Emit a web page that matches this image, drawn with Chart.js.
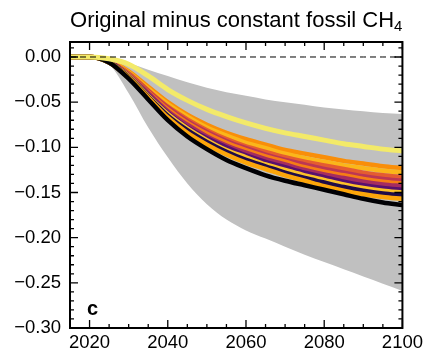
<!DOCTYPE html>
<html>
<head>
<meta charset="utf-8">
<script src="https://cdn.jsdelivr.net/npm/chart.js@4.4.0/dist/chart.umd.min.js"></script>
<style>
  html, body { margin: 0; padding: 0; background: #fff; }
  #wrap { width: 427px; height: 355px; }
</style>
</head>
<body>
<div id="wrap"><canvas id="c" width="427" height="355"></canvas></div>
<script>
const years = [2015, 2020, 2025, 2030, 2035, 2040, 2045, 2050, 2055, 2060, 2065, 2070, 2075, 2080, 2085, 2090, 2095, 2100];
const xTicks = [2020, 2040, 2060, 2080, 2100];
const yTicks = [-0.30, -0.25, -0.20, -0.15, -0.10, -0.05, 0.00];

// grey range of the other models
const rangeHigh = [0, 0, -0.002, -0.007, -0.014, -0.021, -0.028, -0.034, -0.039, -0.043, -0.047, -0.050, -0.053, -0.056, -0.058, -0.060, -0.062, -0.063];
const rangeLow  = [0, 0, -0.008, -0.040, -0.078, -0.111, -0.140, -0.163, -0.180, -0.192, -0.201, -0.210, -0.219, -0.227, -0.235, -0.243, -0.251, -0.259];

// ensemble members, top to bottom at 2100
const memberColors = ['#f3ea69', '#f98e09', '#fbb61a', '#e55c30', '#bc3754', '#f57d15', '#a52c60', '#57106e', '#fcc229', '#1f0c48', '#fca50a', '#000004'];
const members = [
  [0, 0, -0.002, -0.008, -0.021, -0.036, -0.048, -0.058, -0.066, -0.073, -0.079, -0.084, -0.088, -0.092, -0.096, -0.099, -0.102, -0.104],
  [0, 0, -0.004, -0.016, -0.033, -0.050, -0.064, -0.075, -0.084, -0.091, -0.097, -0.103, -0.107, -0.111, -0.115, -0.118, -0.121, -0.123],
  [0, 0, -0.004, -0.017, -0.035, -0.052, -0.066, -0.078, -0.087, -0.095, -0.101, -0.107, -0.112, -0.116, -0.120, -0.123, -0.126, -0.128],
  [0, 0, -0.005, -0.018, -0.037, -0.055, -0.069, -0.081, -0.091, -0.099, -0.105, -0.111, -0.116, -0.120, -0.124, -0.128, -0.131, -0.133],
  [0, 0, -0.005, -0.019, -0.038, -0.056, -0.071, -0.083, -0.093, -0.101, -0.108, -0.114, -0.119, -0.124, -0.128, -0.132, -0.135, -0.137],
  [0, 0, -0.005, -0.019, -0.039, -0.058, -0.073, -0.085, -0.095, -0.103, -0.110, -0.116, -0.122, -0.127, -0.131, -0.135, -0.138, -0.140],
  [0, 0, -0.005, -0.020, -0.040, -0.060, -0.075, -0.088, -0.098, -0.106, -0.113, -0.119, -0.125, -0.130, -0.134, -0.138, -0.141, -0.143],
  [0, 0, -0.005, -0.021, -0.042, -0.062, -0.078, -0.090, -0.100, -0.109, -0.116, -0.122, -0.128, -0.133, -0.138, -0.142, -0.145, -0.147],
  [0, 0, -0.006, -0.021, -0.043, -0.063, -0.079, -0.092, -0.103, -0.111, -0.119, -0.125, -0.131, -0.136, -0.141, -0.145, -0.148, -0.150],
  [0, 0, -0.006, -0.022, -0.044, -0.065, -0.081, -0.094, -0.105, -0.114, -0.121, -0.128, -0.134, -0.139, -0.144, -0.148, -0.151, -0.153],
  [0, 0, -0.006, -0.023, -0.045, -0.067, -0.084, -0.097, -0.108, -0.117, -0.124, -0.131, -0.137, -0.143, -0.148, -0.152, -0.155, -0.157],
  [0, 0, -0.006, -0.024, -0.047, -0.070, -0.088, -0.102, -0.114, -0.123, -0.131, -0.137, -0.142, -0.147, -0.152, -0.157, -0.161, -0.164]
];
const zeroLine = years.map(() => 0);

const FONT = '"Liberation Sans", Arial, sans-serif';
const pts = arr => arr.map((v, i) => ({ x: years[i], y: v }));

const datasets = [];
datasets.push({
  data: pts(zeroLine), borderColor: '#000', borderWidth: 1, borderDash: [6, 4],
  pointRadius: 0, order: 0
});
members.forEach((m, i) => {
  datasets.push({
    data: pts(m), borderColor: memberColors[i], borderWidth: i === 0 ? 5 : 4.5,
    pointRadius: 0, cubicInterpolationMode: 'monotone', order: i === 0 ? 1 : 2 + (members.length - i)
  });
});
datasets.push({
  data: pts(rangeHigh), borderWidth: 0, backgroundColor: '#c0c0c0', fill: '+1',
  pointRadius: 0, cubicInterpolationMode: 'monotone', order: 100
});
datasets.push({
  data: pts(rangeLow), borderWidth: 0, pointRadius: 0, fill: false,
  cubicInterpolationMode: 'monotone', order: 101
});

// frame, inward ticks, title with subscript and panel letter
const decor = {
  id: 'decor',
  afterDraw(chart) {
    const { ctx, chartArea: a, scales } = chart;
    const xs = scales.x, ys = scales.y;
    ctx.save();
    ctx.strokeStyle = '#000';
    ctx.lineWidth = 1.3;
    for (let yr = 2015; yr <= 2100; yr += 5) {
      const px = xs.getPixelForValue(yr);
      const len = yr % 20 === 0 ? 8 : 4;
      ctx.beginPath();
      ctx.moveTo(px, a.bottom); ctx.lineTo(px, a.bottom - len);
      ctx.moveTo(px, a.top); ctx.lineTo(px, a.top + len);
      ctx.stroke();
    }
    for (let k = -30; k <= 1; k++) {
      const py = ys.getPixelForValue(k / 100);
      const len = k % 5 === 0 ? 8 : 4;
      ctx.beginPath();
      ctx.moveTo(a.left, py); ctx.lineTo(a.left + len, py);
      ctx.moveTo(a.right, py); ctx.lineTo(a.right - len, py);
      ctx.stroke();
    }
    ctx.lineWidth = 2;
    ctx.strokeRect(a.left, a.top, a.right - a.left, a.bottom - a.top);

    ctx.fillStyle = '#000';
    ctx.textBaseline = 'alphabetic';
    ctx.font = '22px ' + FONT;
    const main = 'Original minus constant fossil CH';
    const sub = '4';
    const w1 = ctx.measureText(main).width;
    ctx.font = '15px ' + FONT;
    const w2 = ctx.measureText(sub).width;
    const cx = (a.left + a.right) / 2;
    const x0 = cx - (w1 + w2) / 2;
    ctx.font = '22px ' + FONT;
    ctx.textAlign = 'left';
    ctx.fillText(main, x0, 27);
    ctx.font = '15px ' + FONT;
    ctx.fillText(sub, x0 + w1, 31);

    ctx.font = 'bold 20px ' + FONT;
    ctx.fillText('c', 87, 315);
    ctx.restore();
  }
};

new Chart(document.getElementById('c'), {
  type: 'line',
  data: { datasets },
  plugins: [decor],
  options: {
    responsive: false,
    animation: false,
    layout: { padding: { top: 42, right: 22, left: 0, bottom: 0 } },
    plugins: { legend: { display: false }, tooltip: { enabled: false }, title: { display: false } },
    scales: {
      x: {
        type: 'linear', min: 2015, max: 2100,
        afterBuildTicks: s => { s.ticks = xTicks.map(v => ({ value: v })); },
        afterFit: s => { s.height = 27; },
        grid: { display: false, drawTicks: false },
        border: { display: false },
        ticks: { padding: 4, color: '#000', font: { family: FONT, size: 18.5 }, maxRotation: 0, callback: v => String(v) }
      },
      y: {
        type: 'linear', min: -0.30, max: 0.0166,
        afterBuildTicks: s => { s.ticks = yTicks.map(v => ({ value: v })); },
        afterFit: s => { s.width = 70; },
        grid: { display: false, drawTicks: false },
        border: { display: false },
        ticks: {
          padding: 9, color: '#000', font: { family: FONT, size: 18.5 },
          callback: v => (v < -1e-9 ? '\u2212' : '') + Math.abs(v).toFixed(2)
        }
      }
    }
  }
});
</script>
</body>
</html>
